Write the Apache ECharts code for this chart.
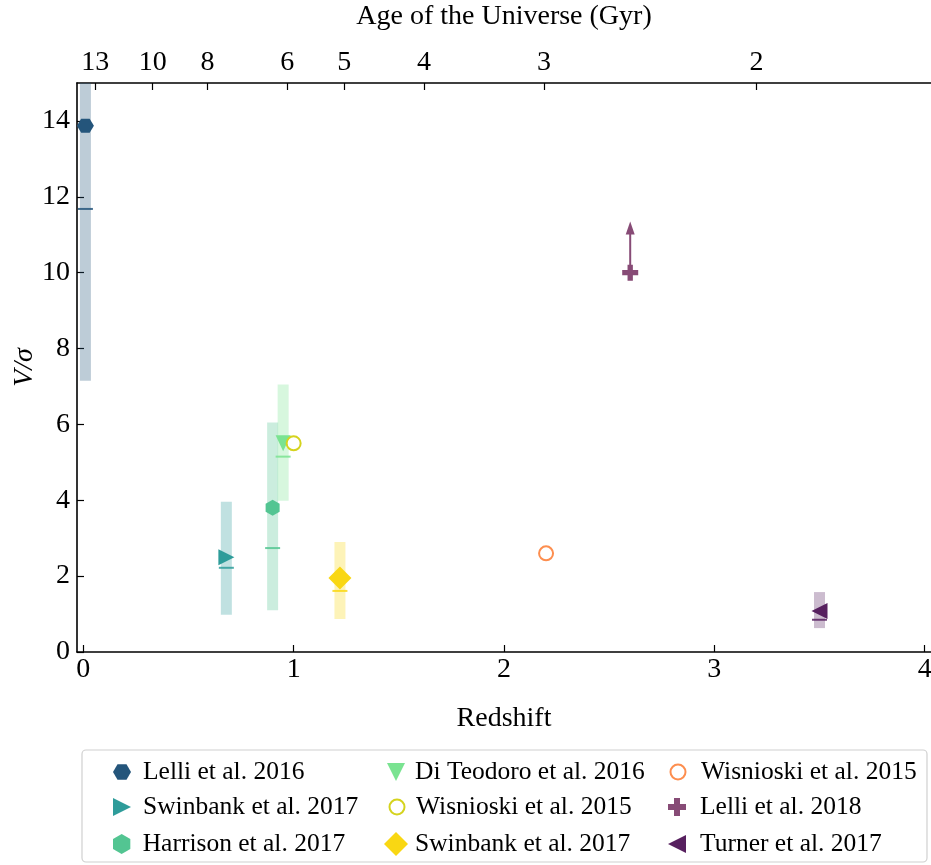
<!DOCTYPE html>
<html>
<head>
<meta charset="utf-8">
<script src="https://cdn.jsdelivr.net/npm/echarts@6/dist/echarts.min.js"></script>
<style>
  html, body { margin: 0; padding: 0; background: #fff; }
  #chart { width: 931px; height: 865px; }
</style>
</head>
<body>
<div id="chart"></div>
<script>
// Rotation support (V/sigma) of galaxies against redshift, compiled from the literature
const studies = ['Lelli et al. 2016', 'Swinbank et al. 2017', 'Harrison et al. 2017',
                 'Di Teodoro et al. 2016', 'Wisnioski et al. 2015', 'Swinbank et al. 2017',
                 'Wisnioski et al. 2015', 'Lelli et al. 2018', 'Turner et al. 2017'];
const redshift   = [0.01, 0.68, 0.90, 0.95, 1.00, 1.22, 2.20, 2.60, 3.50];
const vOverSigma = [13.87, 2.50, 3.80, 5.50, 5.50, 1.95, 2.60, 10.00, 1.08];
// spread of each sample (shaded band) and its median (short tick)
const bandLow    = [7.15, 0.98, 1.10, 3.99, null, 0.87, null, null, 0.63];
const bandHigh   = [15.5, 3.96, 6.05, 7.05, null, 2.90, null, null, 1.58];
const bandMedian = [11.68, 2.22, 2.74, 5.15, null, 1.61, null, null, 0.85];
// Lelli et al. 2018 is a lower limit: arrow from the point up to this value
const lowerLimitTip = 11.35;

// age of the Universe for the secondary (top) axis
const ageGyr      = [13, 10, 8, 6, 5, 4, 3, 2];
const ageRedshift = [0.057, 0.33, 0.59, 0.97, 1.24, 1.62, 2.19, 3.20];

const redshiftTicks = [0, 1, 2, 3, 4];
const vTicks = [0, 2, 4, 6, 8, 10, 12, 14];

const colors = ['#24557b', '#2e9c9a', '#53c592', '#7ae391', '#d5d31e',
                '#f9d713', '#fd8e4f', '#874b76', '#57205f'];
const symbols = [
  'path://M-1,0 L-0.5,-0.866 L0.5,-0.866 L1,0 L0.5,0.866 L-0.5,0.866 Z',
  'path://M0,0 L1,0.5 L0,1 Z',
  'path://M0,-1 L0.866,-0.5 L0.866,0.5 L0,1 L-0.866,0.5 L-0.866,-0.5 Z',
  'path://M0,0 L1,0 L0.5,1 Z',
  'circle',
  'path://M0.5,0 L1,0.5 L0.5,1 L0,0.5 Z',
  'circle',
  'path://M1,0 L2,0 L2,1 L3,1 L3,2 L2,2 L2,3 L1,3 L1,2 L0,2 L0,1 L1,1 Z',
  'path://M1,0 L0,0.5 L1,1 Z'
];
const symbolSizes = [[17, 14], [16, 16], [14, 16], [15, 16], 14, [23, 23], 14, [16, 16], [16, 16]];
const legendIconSizes = [[18, 20], [18, 20], [18, 20], [18, 20], [15, 15], [24, 24], [15, 15], [18, 18], [18, 20]];
const hollow = [false, false, false, false, true, false, true, false, false];

// series ids must be unique; the legend shows only the part before '|'
const seriesNames = studies.map((s, i) => s + '|' + i);

const font = 'Liberation Serif';
const chart = echarts.init(document.getElementById('chart'), null, { renderer: 'canvas' });

const bandData = [];
redshift.forEach((z, i) => {
  if (bandLow[i] !== null) bandData.push([z, bandLow[i], bandHigh[i], bandMedian[i], i]);
});

function rgba(hex, a) {
  const n = parseInt(hex.slice(1), 16);
  return 'rgba(' + (n >> 16) + ',' + ((n >> 8) & 255) + ',' + (n & 255) + ',' + a + ')';
}

function markerStyle(i) {
  return hollow[i]
    ? { color: '#fff', borderColor: colors[i], borderWidth: 2, opacity: 1 }
    : { color: colors[i], borderWidth: 0, opacity: 1 };
}

const bandSeries = {
  type: 'custom',
  name: 'bands',
  xAxisIndex: 0, yAxisIndex: 0,
  clip: true,
  z: 1,
  data: bandData,
  renderItem: function (params, api) {
    const i = api.value(4);
    const top = api.coord([api.value(0), api.value(2)]);
    const bot = api.coord([api.value(0), api.value(1)]);
    const med = api.coord([api.value(0), api.value(3)]);
    const halfW = 5.5;
    const rect = echarts.graphic.clipRectByRect(
      { x: top[0] - halfW, y: top[1], width: halfW * 2, height: bot[1] - top[1] },
      { x: params.coordSys.x, y: params.coordSys.y, width: params.coordSys.width, height: params.coordSys.height });
    return {
      type: 'group',
      children: [
        { type: 'rect', shape: rect, style: { fill: rgba(colors[i], 0.3) } },
        { type: 'line', shape: { x1: med[0] - 7.5, y1: med[1], x2: med[0] + 7.5, y2: med[1] },
          style: { stroke: colors[i], lineWidth: 2, opacity: 0.85 } }
      ]
    };
  }
};

const arrowSeries = {
  type: 'custom',
  name: 'limit',
  xAxisIndex: 0, yAxisIndex: 0,
  z: 2,
  data: [[redshift[7], vOverSigma[7], lowerLimitTip]],
  renderItem: function (params, api) {
    const base = api.coord([api.value(0), api.value(1)]);
    const tip = api.coord([api.value(0), api.value(2)]);
    const headLen = 13, headHalf = 4.5;
    return {
      type: 'group',
      children: [
        { type: 'line', shape: { x1: base[0], y1: base[1], x2: tip[0], y2: tip[1] + headLen - 1 },
          style: { stroke: colors[7], lineWidth: 2 } },
        { type: 'polygon', shape: { points: [[tip[0], tip[1]], [tip[0] + headHalf, tip[1] + headLen],
                                             [tip[0] - headHalf, tip[1] + headLen]] },
          style: { fill: colors[7] } }
      ]
    };
  }
};

const pointSeries = studies.map((s, i) => ({
  type: 'scatter',
  name: seriesNames[i],
  xAxisIndex: 0, yAxisIndex: 0,
  z: 3 + i,
  symbol: symbols[i],
  symbolSize: symbolSizes[i],
  itemStyle: markerStyle(i),
  emphasis: { disabled: true },
  data: [[redshift[i], vOverSigma[i]]]
}));

// legend: three columns of three entries, one legend component per entry
const legendMarkerX = [117, 391, 672];
const legendTextX = [143, 415, 700];
const legendRowY = [771, 806, 843];
const legends = seriesNames.map((name, i) => {
  const col = Math.floor(i / 3), row = i % 3;
  const w = legendIconSizes[i][0], h = legendIconSizes[i][1];
  const left = legendMarkerX[col] - w / 2;
  return {
    orient: 'horizontal',
    left: left,
    top: legendRowY[row] - 17,
    itemWidth: w,
    itemHeight: h,
    selectedMode: false,
    data: [{ name: name, icon: symbols[i], itemStyle: markerStyle(i) }],
    formatter: n => n.split('|')[0],
    textStyle: { fontFamily: font, fontSize: 25.5, lineHeight: 26, color: '#000',
                 padding: [0, 0, 0, Math.max(0, legendTextX[col] - (left + w + 10))] }
  };
});

const fs = 28;
const axisLabelStyle = { fontFamily: font, fontSize: fs, color: '#000' };

chart.setOption({
  animation: false,
  backgroundColor: '#fff',
  grid: { left: 77, right: 0, top: 83, bottom: 213, containLabel: false, outerBoundsMode: 'none' },
  legend: legends,
  graphic: [{
    type: 'rect',
    shape: { x: 82, y: 750, width: 845, height: 112, r: 4 },
    style: { fill: '#fff', stroke: '#d0d0d0', lineWidth: 1.2 },
    z: -1
  }],
  xAxis: [{
    type: 'value',
    position: 'bottom',
    min: -0.03, max: 4.03,
    name: 'Redshift',
    nameLocation: 'middle',
    nameGap: 53,
    nameMoveOverlap: false,
    nameTextStyle: axisLabelStyle,
    axisLine: { show: true, onZero: false, lineStyle: { color: '#000', width: 1.6 } },
    axisTick: { show: true, inside: true, length: 7, customValues: redshiftTicks, lineStyle: { color: '#000', width: 1.2 } },
    axisLabel: Object.assign({ customValues: redshiftTicks, margin: 4 }, axisLabelStyle),
    splitLine: { show: false }
  }, {
    type: 'value',
    position: 'top',
    min: -0.03, max: 4.03,
    name: 'Age of the Universe (Gyr)',
    nameLocation: 'middle',
    nameGap: 52,
    nameMoveOverlap: false,
    nameTextStyle: axisLabelStyle,
    axisLine: { show: true, onZero: false, lineStyle: { color: '#000', width: 1.6 } },
    axisTick: { show: true, inside: true, length: 7, customValues: ageRedshift, lineStyle: { color: '#000', width: 1.2 } },
    axisLabel: Object.assign({
      customValues: ageRedshift,
      margin: 6,
      formatter: function (v) {
        let best = 0;
        ageRedshift.forEach((z, k) => { if (Math.abs(z - v) < Math.abs(ageRedshift[best] - v)) best = k; });
        return String(ageGyr[best]);
      }
    }, axisLabelStyle),
    splitLine: { show: false }
  }],
  yAxis: [{
    type: 'value',
    min: 0, max: 15,
    name: 'V/σ',
    nameLocation: 'middle',
    nameRotate: 90,
    nameGap: 38,
    nameMoveOverlap: false,
    nameTextStyle: Object.assign({}, axisLabelStyle, { fontStyle: 'italic' }),
    axisLine: { show: true, onZero: false, lineStyle: { color: '#000', width: 1.6 } },
    axisTick: { show: true, inside: true, length: 7, customValues: vTicks, lineStyle: { color: '#000', width: 1.2 } },
    axisLabel: Object.assign({ customValues: vTicks, margin: 7 }, axisLabelStyle),
    splitLine: { show: false }
  }],
  series: [bandSeries, arrowSeries].concat(pointSeries)
});
</script>
</body>
</html>
